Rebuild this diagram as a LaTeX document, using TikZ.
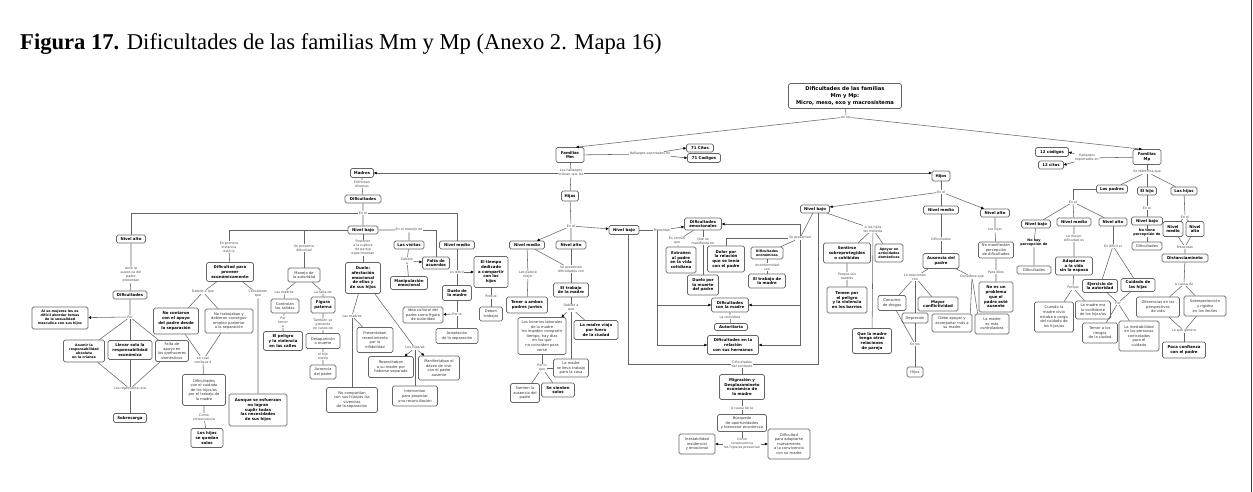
\documentclass[tikz,border=0pt]{standalone}
\usepackage{fontspec}
\setmainfont{Liberation Serif}
\newfontfamily\dv{DejaVu Sans}
\usetikzlibrary{arrows.meta,calc}
\newcommand\nd[6]{\node[#1,minimum width=#4pt,minimum height=#5pt] (#2) at (#3) {#6};}
\newcommand\lbl[3]{\node[lb] (#1) at (#2) {#3};}
\newcommand\lbb[3]{\node[lb,font=\dv\bfseries\fontsize{3.4}{4.1}\selectfont,text=black] (#1) at (#2) {#3};}
\tikzset{
 ln/.style={draw=black!60,line width=0.55pt},
 ar/.style={-{Triangle[length=2.8pt,width=2.6pt,color=black]}},
 bx/.style={draw=black!60,line width=0.6pt,rounded corners=1.6pt,fill=white,align=center,inner sep=0pt},
 bb/.style={bx,font=\dv\bfseries\fontsize{3.9}{4.7}\selectfont},
 bs/.style={bx,font=\dv\bfseries\fontsize{3.3}{4.0}\selectfont},
 rb/.style={bx,font=\dv\fontsize{3.7}{4.6}\selectfont,text=black!80},
 lb/.style={align=center,inner sep=0.5pt,font=\dv\fontsize{3.3}{4}\selectfont,text=black!70},
 rt/.style={bx,font=\dv\bfseries\fontsize{5.2}{7}\selectfont},
}
\begin{document}
\begin{tikzpicture}[x=1pt,y=-1pt]
\useasboundingbox (0,0) rectangle (1253,492);
\fill[white] (0,0) rectangle (1253,492);
\draw[black!75,line width=1.3pt] (1251.5,0) -- (1251.5,492);
\node[anchor=west,inner sep=0,font=\fontsize{22.6}{26}\selectfont] (title) at (20,44) {\textbf{Figura 17.} Dificultades de las familias Mm y Mp (Anexo 2. Mapa 16)};

% ---------- root
\nd{rt}{root}{845,96}{113}{25}{Dificultades de las familias\\Mm y Mp:\\Micro, meso, exo y macrosistema}
\lbl{lenl}{846,117}{en las}
\nd{bb}{fmm}{570,155}{28}{15}{Familias\\Mm}
\nd{bb}{fmp}{1147,157}{28}{15}{Familias\\Mp}
\draw[ln] (root) -- (lenl);
\draw[ln,ar] (lenl) -- ([xshift=6pt]fmm.north);
\draw[ln,ar] (lenl) -- ([xshift=-5pt]fmp.north);
\lbl{lhs1}{650,154}{Hallazgos soportados en}
\nd{bb}{c71}{700,148}{27}{8}{71 Citas}
\nd{bb}{k71}{704,158}{33}{9}{71 Codigos}
\draw[ln] (fmm) -- (lhs1);
\draw[ln,ar] (lhs1) -- (c71.west);
\draw[ln,ar] (lhs1) -- (k71.west);
\lbl{lhal}{571,173}{Los hallazgos\\indican que las}
\nd{bb}{madres}{362,173}{23}{9}{Madres}
\nd{bb}{hijos}{941,176}{18}{10}{Hijos}
\nd{bb}{hijas}{570,196}{17}{10}{Hijas}
\draw[ln] (fmm) -- (lhal) -- (hijas);
\draw[ln,ar] (lhal) -- (madres);
\draw[ln,ar] (lhal.east) -- (hijos.west |- lhal.east);

% ---------- Madres
\lbl{lenf}{362,184}{Enfrentan\\diversos}
\nd{bb}{mdif}{363,199}{36}{8}{Dificultades}
\lbl{lme}{363,213}{En el}
\nd{bb}{mna}{131,239}{29}{8}{Nivel alto}
\nd{bb}{mnb}{363,230}{30}{8}{Nivel bajo}
\nd{bb}{mnm}{457,245}{35}{8}{Nivel medio}
\draw[ln] (madres) -- (lenf) -- (mdif) -- (lme) -- (mnb);
\draw[ln] (lme.west) -| (mna);
\draw[ln] (lme.east) -| (mnm);

\lbl{lante}{131,275}{Ante la\\ausencia del\\padre\\presentan}
\nd{bb}{mad}{130,295}{34}{8}{Dificultades}
\lbl{lpor1}{130,317}{Por}
\nd{bs}{sex}{60,318}{56}{22}{Al se mujeres les es\\difícil abordar temas\\de la sexualidad\\masculina con sus hijos}
\nd{bs}{asu}{84,351}{41}{22}{Asumir la\\responsabilidad\\absoluta\\en la crianza}
\nd{bb}{lle}{130,350}{44}{19}{Llevar sola la\\responsabilidad\\económica}
\nd{rb}{fal}{172,351}{33}{21}{Falta de\\apoyo en\\los quehaceres\\domésticos}
\lbl{lrep}{130,389}{Los representa una}
\nd{bb}{sob}{130,418}{33}{9}{Sobrecarga}
\draw[ln] (mna) -- (lante) -- (mad) -- (lpor1);
\draw[ln,ar] (lpor1) -- (sex);
\draw[ln] (lpor1) -- (asu) -- (lrep);
\draw[ln] (lpor1) -- (lle) -- (lrep);
\draw[ln] (lpor1) -- (fal) -- (lrep);
\draw[ln] (lrep) -- (sob);

\lbl{lpri}{229,247}{En primera\\instancia\\está la}
\nd{bb}{dpro}{230,272}{47}{19}{Dificultad para\\proveer\\económicamente}
\lbl{ldeb}{203,292}{Debido a que}
\lbl{lcon}{258,294}{Consideran\\que}
\nd{bb}{ncon}{176,321}{45}{26}{No contaron\\con el apoyo\\del padre desde\\la separación}
\nd{rb}{ntra}{229,321}{48}{24}{No trabajaban y\\debieron conseguir\\empleo posterior\\a la separación}
\lbl{llo}{203,360}{Lo cual\\conlleva a}
\nd{rb}{dcui}{204,390}{43}{31}{Dificultades\\con el cuidado\\de los hijos/as\\por el trabajo de\\la madre}
\lbl{lcomo}{204,417}{Como\\consecuencia}
\nd{bb}{lhij}{207,438}{32}{19}{Los hijos\\se quedan\\solos}
\nd{bb}{aunq}{258,410}{58}{32}{Aunque se esfuerzan\\no logran\\suplir todas\\las necesidades\\de sus hijos}
\draw[ln] (mnb.west) -| (lpri);
\draw[ln] (lpri) -- (dpro);
\draw[ln] (dpro) -- (ldeb);
\draw[ln] (dpro) -- (lcon) -- (aunq);
\draw[ln] (ldeb) -- (ncon) -- (llo);
\draw[ln] (ldeb) -- (ntra) -- (llo);
\draw[ln] (llo) -- (dcui) -- (lcomo) -- (lhij);

\lbl{lsep}{304,248}{Se presenta\\dificultad}
\nd{rb}{man}{304,275}{32}{14}{Manejo de\\la autoridad}
\lbl{llm}{284,292}{Las madres}
\nd{rb}{ctr}{285,306}{28}{14}{Controlan\\las salidas}
\lbl{lpt}{283,322}{Por\\temor\\a}
\nd{bb}{pel}{283,341}{39}{19}{El peligro\\y la violencia\\en las calles}
\lbl{lfal}{323,292}{La falta de}
\nd{bb}{fig}{323,305}{24}{16}{Figura\\paterna}
\lbl{ltam}{323,324}{También se\\presenta\\en casos de}
\nd{rb}{des}{323,341}{34}{15}{Desaparición\\o muerte}
\lbl{lhs}{323,356}{el hijo\\siente}
\nd{rb}{aus}{323,372}{26}{14}{Ausencia\\del padre}
\draw[ln] (mnb.west) -| (lsep);
\draw[ln] (lsep) -- (man);
\draw[ln] (man) -- (llm) -- (ctr) -- (lpt) -- (pel);
\draw[ln] (man) -- (lfal) -- (fig) -- (ltam) -- (des) -- (lhs) -- (aus);

\lbl{lpost}{363,248}{Posterior\\a la ruptura\\de pareja\\experimentan}
\nd{bb}{duelo}{363,278}{35}{31}{Duelo:\\afectación\\emocional\\de ellas y\\de sus hijos}
\lbl{llm2}{352,316}{Las madres}
\nd{rb}{pres}{375,340}{36}{25}{Presentaban\\resentimiento\\por la\\infidelidad}
\nd{rb}{ncom}{352,400}{51}{25}{No compartían\\con sus hijos/as las\\vivencias\\de la separación}
\lbl{lhij2}{415,348}{Los hijos/as}
\nd{rb}{rep}{391,367}{45}{21}{Reprochaban\\a su madre por\\haberse separado}
\nd{rb}{manif}{439,368}{41}{24}{Manifestaban el\\deseo de vivir\\con el padre\\ausente}
\nd{rb}{interv}{415,396}{45}{20}{Intervenían\\para propiciar\\una reconciliación}
\draw[ln] (mnb) -- (lpost) -- (duelo);
\draw[ln] (duelo) -- (llm2);
\draw[ln] (llm2) -- (pres);
\draw[ln] (llm2) -- (ncom);
\draw[ln] (duelo) -- (lhij2);
\draw[ln,ar] (lhij2) -- (rep);
\draw[ln,ar] (lhij2) -- (manif);
\draw[ln] (lhij2) -- (interv);

\lbl{lman}{409,230}{En el manejo de}
\nd{bb}{vis}{409,245}{30}{8}{Las visitas}
\lbl{ldebv}{407,261}{Debido\\a}
\nd{bb}{falta}{436,263}{27}{12}{Falta de\\acuerdos}
\nd{bb}{mani}{409,283}{37}{13}{Manipulación\\emocional}
\draw[ln] (mnb) -- (lman) -- (vis) -- (ldebv) -- (mani);
\draw[ln,ar] (ldebv) -- (falta);
\draw[ln] (lman.east) -| (falta);

\lbl{ldif}{457,272}{es difícil}
\nd{bb}{tiem}{491,272}{34}{31}{El tiempo\\dedicado\\a compartir\\con los\\hijos}
\nd{bb}{dmad}{457,293}{29}{15}{Duelo de\\la madre}
\lbl{lporla}{457,314}{Por la}
\nd{rb}{idea}{423,315}{40}{16}{Idea cultural del\\padre como figura\\de autoridad}
\nd{rb}{acep}{457,336}{42}{15}{Aceptación\\de la separación}
\lbl{lporq}{491,297}{Porque}
\nd{rb}{deb}{491,314}{23}{14}{Deben\\trabajar}
\draw[ln] (mnm) -- (ldif) -- (dmad) -- (lporla) -- (acep);
\draw[ln,ar] (ldif) -- (tiem);
\draw[ln,ar] (lporla) -- (idea);
\draw[ln] (tiem) -- (lporq) -- (deb);

% ---------- Hijas
\lbl{lenh}{571,226}{En el}
\nd{bb}{hnm}{527,245}{35}{8}{Nivel medio}
\nd{bb}{hna}{571,245}{30}{8}{Nivel alto}
\nd{bb}{hnb}{624,230}{30}{9}{Nivel bajo}
\draw[ln] (hijas) -- (lenh) -- (hna);
\draw[ln,ar] (lenh) -- (hnm);
\draw[ln,ar] (lenh) -- (hnb);
\lbl{lpar}{528,275}{Les parece\\mejor}
\nd{bb}{ten}{527,305}{41}{16}{Tener a ambos\\padres juntos}
\lbl{lsepr}{571,269}{Se presentan\\dificultades con}
\nd{bb}{trab}{571,290}{35}{14}{El trabajo\\de la madre}
\lbl{ldeb2}{571,308}{Debido a\\que}
\nd{rb}{hor}{542,336}{48}{37}{Los horarios laborales\\de la madre\\les impiden compartir\\tiempo, hay días\\en los que\\no coinciden para\\verse}
\nd{bb}{viaja}{596,330}{44}{19}{La madre viaja\\por fuera\\de la ciudad}
\nd{rb}{lleva}{571,368}{35}{18}{La madre\\se lleva trabajo\\para la casa}
\lbl{lporlo}{542,368}{Por lo\\que}
\nd{rb}{sien}{525,393}{29}{19}{Sienten la\\ausencia del\\padre}
\nd{bb}{sol}{558,390}{33}{14}{Se sienten\\solos}
\draw[ln] (hnm) -- (lpar) -- (ten);
\draw[ln] (hnm) -- (lsepr);
\draw[ln] (hna) -- (lsepr) -- (trab) -- (ldeb2);
\draw[ln,ar] (ldeb2) -- (hor);
\draw[ln] (ldeb2) -- (viaja);
\draw[ln] (ldeb2) -- (lleva) -- (lporlo);
\draw[ln] (hor) -- (lporlo);
\draw[ln] (lporlo) -- (sien);
\draw[ln] (lporlo) -- (sol);

\lbl{lpresen}{662,230}{Presentan}
\nd{bb}{demo}{703,224}{37}{12}{Dificultades\\emocionales}
\lbl{lescom}{677,241}{Es común\\que}
\nd{bb}{extr}{681,260}{30}{26}{Extrañen\\al padre\\en la vida\\cotidiana}
\lbl{lque}{703,241}{Que se\\manifiesta en}
\nd{bb}{dmue}{703,285}{31}{20}{Duelo por\\la muerte\\del padre}
\nd{bb}{dolor}{726,259}{37}{26}{Dolor por\\la relación\\que se tenía\\con el padre}
\nd{bs}{deco}{767,253}{32}{12}{Dificultades\\económicas}
\lbl{linc}{767,267}{Inconformidad\\con}
\nd{bb}{tmad}{767,281}{37}{14}{El trabajo de\\la madre}
\lbl{lsepn}{800,238}{Se presentan}
\nd{bb}{dcm}{730,305}{37}{14}{Dificultades\\con la madre}
\lbl{lcons}{730,317}{La considera}
\nd{bb}{aut}{731,327}{33}{7}{Autoritaria}
\nd{bb}{dher}{733,345}{51}{19}{Dificultades en la\\relación\\con sus hermanos}
\draw[ln] (hnb) -- (lpresen);
\draw[ln,ar] (lpresen) -- (demo);
\draw[ln] (demo) -- (lescom) -- (extr);
\draw[ln] (demo) -- (lque) -- (dmue);
\draw[ln] (deco) -- (linc) -- (tmad);
\draw[ln] (dcm) -- (lcons) -- (aut);
\coordinate (pv) at (657,230);
\draw[ln,ar] (pv) |- (dcm.west);
\draw[ln,ar] (pv) |- (dher.west);
\draw[ln,ar] (lsepn.north) |- (demo.east);
\draw[ln] (lsepn.west) -| (dolor);
\draw[ln] (lsepn) -- (deco);
\draw[ln,ar] (lsepn.south) |- (dcm.east);
\draw[ln,ar] (lsepn.south) |- (dher.east);

\lbl{ldctx}{742,364}{Dificultades\\del contexto}
\nd{bb}{mig}{742,387}{45}{25}{Migración y\\Desplazamineto\\económico de\\la madre}
\lbl{lcau}{742,408}{A causa de la}
\nd{rb}{bus}{742,423}{49}{17}{Búsqueda\\de oportunidades\\y bienestar económico}
\lbl{lcom2}{742,444}{Como\\consecuencia\\los hijos/as presentan}
\nd{rb}{ines}{697,444}{36}{20}{Inestabilidad\\residencial\\y emocional}
\nd{rb}{dada}{789,444}{42}{30}{Dificultad\\para adaptarse\\nuevamente\\a la convivencia\\con su madre}
\draw[ln] ([xshift=4pt]hnb.south) |- (ldctx.west);
\draw[ln] (ldctx) -- (mig) -- (lcau) -- (bus) -- (lcom2);
\draw[ln,ar] (lcom2) -- (ines);
\draw[ln,ar] (lcom2) -- (dada);

% ---------- Hijos
\lbl{lenhi}{941,192}{En el}
\nd{bb}{hinb}{815,209}{29}{8}{Nivel bajo}
\nd{bb}{hinm}{941,210}{35}{8}{Nivel medio}
\nd{bb}{hina}{995,213}{29}{8}{Nivel alto}
\draw[ln] (hijos) -- (lenhi) -- (hinm);
\draw[ln,ar] (lenhi) -- (hinb);
\draw[ln,ar] (lenhi) -- (hina);
\draw[ln] (hinb) -- (lsepn);
\draw[ln] ([xshift=3pt]hinb.south) |- (ldctx.east);

\lbl{lmol}{873,229}{A los hijos\\les molesta}
\nd{bb}{sobr}{847,253}{47}{20}{Sentirse\\sobreprotegidos\\o cohibidos}
\nd{bs}{apo}{889,253}{28}{18}{Apoyar en\\actividades\\domésticas}
\lbl{lpsm}{847,276}{Porque sus\\madres}
\nd{bb}{tem}{847,300}{40}{26}{Temen por\\el peligro\\y la violencia\\en los barrios}
\nd{bb}{quem}{872,341}{39}{25}{Que la madre\\tenga otras\\relaciones\\de pareja}
\draw[ln] (hinb) -- (lmol);
\draw[ln] (lmol) -- (sobr) -- (lpsm) -- (tem);
\draw[ln] (lmol) -- (apo);
\draw[ln] (lmol) -- (quem);

\lbl{ldif2}{941,239}{Dificultades}
\nd{bb}{ausp}{941,261}{36}{15}{Ausencia del\\padre}
\lbl{lrel}{915,277}{Lo relacionan\\con}
\nd{rb}{cons}{892,303}{28}{15}{Consumo\\de drogas}
\nd{rb}{depr}{915,318}{26}{10}{Depresión}
\nd{bb}{mayor}{938,304}{40}{14}{Mayor\\conflictividad}
\lbl{lenlos}{915,344}{En los}
\nd{rb}{hijos2}{915,372}{16}{10}{Hijos}
\lbl{lcq}{972,277}{Considera que}
\nd{rb}{debe}{952,323}{40}{18}{Debe apoyar y\\acompañar más a\\su madre}
\nd{rb}{mcon}{992,324}{34}{20}{La madre\\es más\\controladora}
\draw[ln] (hinm) -- (ldif2) -- (ausp);
\draw[ln] (ausp) -- (lrel);
\draw[ln] (lrel) -- (cons) -- (lenlos);
\draw[ln] (lrel) -- (depr) -- (lenlos);
\draw[ln] (lrel) -- (mayor);
\draw[ln] (lenlos) -- (hijos2);
\draw[ln] (ausp) -- (lcq);
\draw[ln] (lcq) -- ([xshift=-2pt]debe.north east);
\draw[ln] (lcq) -- ([xshift=3pt]mcon.north west);

\lbl{llh}{995,230}{Los hijos}
\nd{rb}{nman}{996,250}{35}{16}{No manifiestan\\percepción\\de dificultades}
\lbl{lpe}{996,272}{Para ellos}
\nd{bb}{nprob}{996,297}{34}{30}{No es un\\problema\\que el\\padre esté\\ausente}
\draw[ln] (hina) -- (llh) -- (nman) -- (lpe) -- (nprob);

% ---------- Familias Mp
\lbl{lhs2}{1087,158}{Hallazgos\\soportados en}
\nd{bb}{c12}{1052,152}{33}{9}{12 códigos}
\nd{bb}{ci12}{1051,165}{25}{8}{12 citas}
\draw[ln] (fmp) -- (lhs2);
\draw[ln,ar] (lhs2) -- (c12.east);
\draw[ln,ar] (lhs2) -- (ci12.east);
\lbl{lsi}{1147,172}{Se identifica que}
\nd{bb}{pad}{1112,189}{31}{8}{Los padres}
\nd{bb}{hijo}{1147,191}{19}{8}{El hijo}
\nd{bb}{has}{1184,191}{26}{8}{Las hijas}
\draw[ln] (fmp) -- (lsi);
\draw[ln] (lsi) -- (pad);
\draw[ln] (lsi) -- (hijo);
\draw[ln] (lsi) -- (has);

\lbl{lenp}{1073,202}{En el}
\nd{bb}{pnb}{1036,224}{29}{8}{Nivel bajo}
\nd{bb}{pnm}{1074,222}{34}{8}{Nivel medio}
\nd{bb}{pna}{1113,222}{28}{8}{Nivel alto}
\draw[ln] (pad.west) -| (lenp);
\draw[ln] (lenp) -- (pnb);
\draw[ln] (lenp) -- (pnm);
\draw[ln] (lenp) -- (pna);
\lbb{lnhp}{1034,243}{No hay\\percepción de}
\nd{rb}{pdif}{1034,270}{34}{8}{Dificultades}
\draw[ln] (pnb) -- (lnhp) -- (pdif);
\lbl{lmay}{1074,238}{La mayor\\dificultad es}
\nd{bb}{adap}{1074,266}{37}{18}{Adaptarse\\a la vida\\sin la esposa}
\lbl{lporq2}{1073,288}{Porque}
\nd{rb}{cuan}{1054,317}{39}{30}{Cuando la\\madre vivía\\estaba a cargo\\del cuidado de\\los hijos/as}
\nd{rb}{conf}{1093,310}{35}{18}{La madre era\\la confidente\\de los hijos/as}
\draw[ln] (pnm) -- (lmay) -- (adap) -- (lporq2);
\draw[ln] (lporq2) -- (cuan);
\draw[ln] (lporq2) -- (conf);
\lbl{lesd}{1113,246}{Es difícil el}
\nd{bb}{ejer}{1100,286}{35}{13}{Ejercicio de\\la autoridad}
\nd{bb}{cuid}{1138,285}{34}{13}{Cuidado de\\las hijas}
\lbl{lpor3}{1118,303}{Por}
\nd{rb}{temo}{1100,333}{35}{20}{Temor a los\\riesgos\\de la ciudad}
\nd{rb}{inest}{1139,336}{40}{30}{La inestabilidad\\en las personas\\contratadas\\para el\\cuidado}
\draw[ln] (pna) -- (lesd);
\draw[ln] (lesd) -- (ejer) -- (lpor3);
\draw[ln] (lesd) -- (cuid) -- (lpor3);
\draw[ln] (lpor3) -- (temo);
\draw[ln] (lpor3) -- (inest);

\lbl{lenhijo}{1147,208}{En el}
\nd{bb}{hnb2}{1147,221}{31}{8}{Nivel bajo}
\lbb{lnot}{1147,233}{No tiene\\percepción de}
\nd{rb}{hdif}{1147,246}{30}{8}{Dificultades}
\draw[ln] (hijo) -- (lenhijo) -- (hnb2) -- (lnot) -- (hdif);

\lbl{lenhas}{1185,217}{En el}
\nd{bb}{hasm}{1173,229}{20}{15}{Nivel\\medio}
\nd{bb}{hasa}{1195,229}{18}{15}{Nivel\\alto}
\lbl{lpre2}{1185,247}{Presentan}
\nd{bb}{dist}{1185,258}{46}{8}{Distanciamineto}
\lbl{lacau}{1184,284}{A causa de}
\nd{rb}{difp}{1158,307}{43}{20}{Diferencias en las\\perspectivas\\de vida}
\nd{rb}{sobp}{1205,306}{42}{20}{Sobreprotección\\y rigidez\\en los límites}
\lbl{lgen}{1184,331}{Lo que genera}
\nd{bb}{poca}{1184,350}{43}{16}{Poca confianza\\con el padre}
\draw[ln] (has) -- (lenhas);
\draw[ln] (lenhas) -- (hasm) -- (lpre2);
\draw[ln] (lenhas) -- (hasa) -- (lpre2);
\draw[ln] (lpre2) -- (dist) -- (lacau);
\draw[ln] (lacau) -- (difp) -- (lgen);
\draw[ln] (lacau) -- (sobp) -- (lgen);
\draw[ln] (lgen) -- (poca);
\end{tikzpicture}
\end{document}
